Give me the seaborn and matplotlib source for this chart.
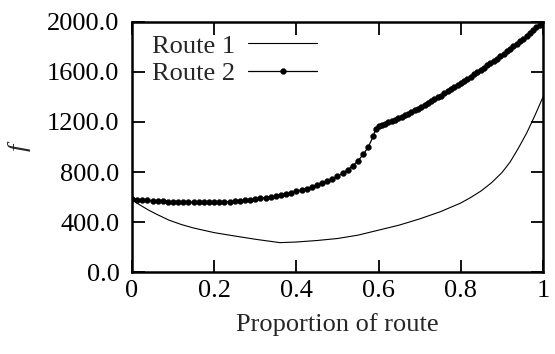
import pandas as pd
import numpy as np
import seaborn as sns
import matplotlib.pyplot as plt

# Route 1: thin line
route1_x = [0.0, 0.01, 0.02, 0.04, 0.06, 0.09, 0.12, 0.15, 0.2, 0.25, 0.3, 0.36,
            0.4, 0.45, 0.5, 0.55, 0.6, 0.65, 0.7, 0.75, 0.8, 0.825, 0.85, 0.875,
            0.9, 0.92, 0.94, 0.96, 0.98, 1.0]
route1_y = [578, 555, 535, 496, 462, 415, 380, 352, 315, 288, 262, 235,
            240, 252, 268, 295, 335, 375, 425, 482, 552, 598, 650, 715,
            795, 880, 990, 1110, 1250, 1400]

# Route 2: sampled points, coarse before the kink, dense after it
route2_x_a = np.round(np.arange(48) * 0.0125, 4)
route2_y_a = [584, 580, 576, 573, 570, 568, 566, 564, 562, 561, 560, 559,
              558, 558, 558, 558, 559, 560, 562, 564, 567, 570, 574, 579,
              584, 590, 596, 603, 610, 618, 626, 635, 645, 656, 668, 680,
              694, 709, 726, 745, 766, 790, 818, 850, 890, 940, 1000, 1090]
route2_x_b = np.round(0.6 + np.arange(51) * 0.008, 4)
route2_y_b = [1165, 1176, 1186, 1197, 1208, 1219, 1229, 1241, 1254, 1267,
              1280, 1292, 1305, 1320, 1335, 1350, 1366, 1381, 1396, 1411,
              1428, 1445, 1461, 1477, 1494, 1510, 1528, 1545, 1563, 1580,
              1598, 1616, 1634, 1652, 1671, 1689, 1707, 1726, 1745, 1766,
              1786, 1806, 1827, 1847, 1867, 1889, 1911, 1933, 1956, 1978, 2000]

df1 = pd.DataFrame({'x': route1_x, 'f': route1_y})
df2 = pd.DataFrame({'x': np.concatenate([route2_x_a, [0.5925], route2_x_b]),
                    'f': np.concatenate([route2_y_a, [1145], route2_y_b])})

sns.set_style("ticks")
plt.rcParams['font.family'] = ['Liberation Serif', 'DejaVu Serif']

fig = plt.figure(figsize=(5.55, 3.54), dpi=100)
ax = fig.add_axes([0.2378, 0.2316, 0.9784 - 0.2378, 0.9379 - 0.2316])

sns.lineplot(data=df1, x='x', y='f', ax=ax, color='black', linewidth=0.8,
             label='Route 1', sort=False)
sns.lineplot(data=df2, x='x', y='f', ax=ax, color='black', linewidth=0.9,
             marker='o', markersize=4.2, markeredgewidth=0.3,
             markeredgecolor='black', label='Route 2', sort=False)

ax.set_xlim(0, 1)
ax.set_ylim(0, 2000)
ax.set_xticks([0, 0.2, 0.4, 0.6, 0.8, 1.0])
ax.set_xticklabels(['0', '0.2', '0.4', '0.6', '0.8', '1'])
yt = [0, 400, 800, 1200, 1600, 2000]
ax.set_yticks(yt)
ax.set_yticklabels([f'{v:.1f}' for v in yt])

ax.tick_params(direction='in', length=9, width=1.3, top=True, right=True,
               labelsize=19, colors='black')
ax.tick_params(axis='x', pad=6)
ax.tick_params(axis='y', pad=9)
for s in ax.spines.values():
    s.set_linewidth(1.8)
    s.set_color('black')

ax.set_xlabel('Proportion of route', fontsize=19, labelpad=8)
ax.set_ylabel('f', fontsize=19, fontstyle='italic', labelpad=12)

leg = ax.legend(loc='upper left', frameon=False, fontsize=19, markerfirst=False,
                handlelength=2.6, handletextpad=0.5, labelspacing=0.17,
                borderaxespad=0.2, numpoints=1, bbox_to_anchor=(0.01, 1.015))

fig.savefig('out.png', dpi=100)
